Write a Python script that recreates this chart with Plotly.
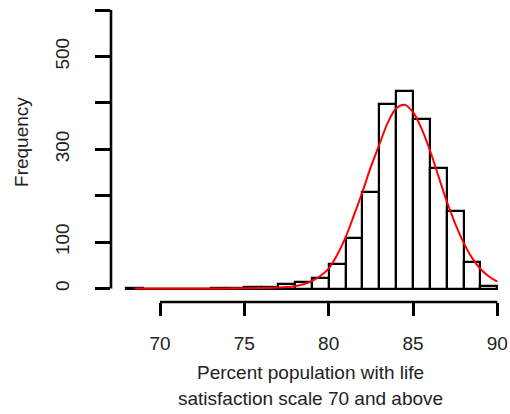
import plotly.graph_objects as go

# Histogram bins (left edges, width 1) and counts
bin_left = [68, 69, 70, 71, 72, 73, 74, 75, 76, 77, 78, 79, 80, 81, 82, 83, 84, 85, 86, 87, 88, 89]
counts = [2, 0, 0, 0, 0, 1, 1, 4, 3, 10, 15, 22, 53, 108, 208, 397, 425, 366, 259, 167, 57, 5]

# Red fitted curve, read at sample points
curve_x = [68.5, 70, 72, 74, 75, 76, 77, 77.5, 78, 78.5, 79, 79.5, 80, 80.5, 81, 81.5, 82, 82.5,
           83, 83.5, 84, 84.5, 85, 85.5, 86, 86.5, 87, 87.5, 88, 88.5, 89, 89.5, 90]
curve_y = [0, 0, 0, 0.2, 0.4, 1, 2, 3, 5, 9, 16, 27, 43, 72, 110, 158, 208, 262,
           310, 357, 388, 396, 380, 345, 298, 243, 188, 140, 99, 66, 42, 26, 15]

x_ticks = [70, 75, 80, 85, 90]
x_tick_labels = ["70", "75", "80", "85", "90"]
y_ticks = [0, 100, 200, 300, 400, 500, 600]
y_tick_labels = ["0", "100", "", "300", "", "500", ""]

x_title_lines = ["Percent population with life", "satisfaction scale 70 and above"]
y_title = "Frequency"

FONT = "Liberation Sans, Arial, sans-serif"
FS = 19

fig = go.Figure()
fig.add_trace(go.Bar(
    x=[b + 0.5 for b in bin_left], y=counts, width=1,
    marker=dict(color="white", line=dict(color="black", width=2.2)),
    showlegend=False, hoverinfo="skip"))
fig.add_trace(go.Scatter(
    x=curve_x, y=curve_y, mode="lines", line=dict(color="red", width=2, shape="spline"),
    showlegend=False, hoverinfo="skip"))

# R-style axis lines spanning only the tick range
fig.add_shape(type="line", xref="x", yref="paper", x0=x_ticks[0], x1=x_ticks[-1], y0=0, y1=0,
              line=dict(color="black", width=2.6))
fig.add_shape(type="line", xref="paper", yref="y", x0=0, x1=0, y0=y_ticks[0], y1=y_ticks[-1],
              line=dict(color="black", width=2.6))

fig.add_annotation(text=x_title_lines[0], xref="paper", yref="paper", x=0.5, y=-0.232,
                   showarrow=False, font=dict(family=FONT, size=FS, color="#222"),
                   xanchor="center", yanchor="middle")
fig.add_annotation(text=x_title_lines[1], xref="paper", yref="paper", x=0.5, y=-0.3205,
                   showarrow=False, font=dict(family=FONT, size=FS, color="#222"),
                   xanchor="center", yanchor="middle")
fig.add_annotation(text=y_title, xref="paper", yref="paper", x=-0.223, y=0.53,
                   showarrow=False, textangle=-90, font=dict(family=FONT, size=FS, color="#222"),
                   xanchor="center", yanchor="middle")

fig.update_layout(
    width=510, height=414,
    margin=dict(l=111, r=0, t=0, b=112, autoexpand=False),
    paper_bgcolor="white", plot_bgcolor="white",
    bargap=0,
    font=dict(family=FONT, size=FS, color="#222"),
    xaxis=dict(range=[67.095, 90.75], tickvals=x_ticks, ticktext=x_tick_labels,
               ticks="outside", ticklen=13, tickwidth=2.6, tickcolor="black",
               showgrid=False, zeroline=False, showline=False, ticklabelstandoff=11,
               automargin=False),
    yaxis=dict(range=[-29.1, 621.8], tickvals=y_ticks, ticktext=y_tick_labels,
               ticks="outside", ticklen=15, tickwidth=2.6, tickcolor="black", tickangle=-90,
               showgrid=False, zeroline=False, showline=False, ticklabelstandoff=18,
               automargin=False),
)

fig.write_html("out.html", config={"displayModeBar": False},
               post_script="document.body.style.margin='0';")
